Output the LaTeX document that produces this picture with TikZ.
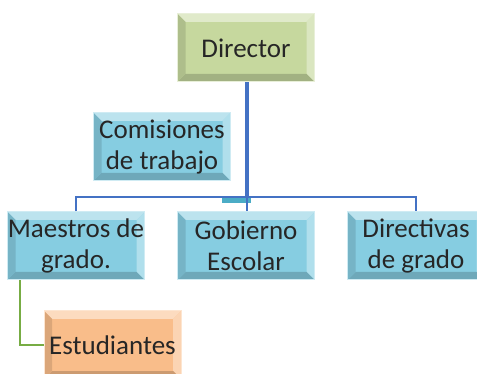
\documentclass[tikz,border=0pt]{standalone}
\usepackage{fontspec}
\setmainfont{Carlito}
\usepackage{xcolor}
\usepackage{tikz}
\usetikzlibrary{positioning}
\definecolor{boxgreen}{RGB}{198,216,158}
\definecolor{boxblue}{RGB}{134,205,225}
\definecolor{boxorange}{RGB}{249,189,138}
\definecolor{linkblue}{RGB}{68,114,196}
\definecolor{linkteal}{RGB}{75,172,198}
\definecolor{linkgreen}{RGB}{119,172,68}
\tikzset{my_chart/.style={x=1pt,y=1pt,font=\fontsize{27}{31}\selectfont,text=black!85,node distance=32pt}}
\tikzset{my_box/.style={rectangle, minimum width=137pt, minimum height=68pt, inner sep=0pt, align=center}}
\tikzset{my_bevel/.style={my_box, fill=#1, draw=#1!40!white, line width=1pt, path picture={
    \fill[#1!55!white] (path picture bounding box.north west) -- (path picture bounding box.north east)
        -- ([shift={(-8pt,-8pt)}]path picture bounding box.north east) -- ([shift={(8pt,-8pt)}]path picture bounding box.north west) -- cycle;
    \fill[#1!65!white] (path picture bounding box.north east) -- (path picture bounding box.south east)
        -- ([shift={(-8pt,8pt)}]path picture bounding box.south east) -- ([shift={(-8pt,-8pt)}]path picture bounding box.north east) -- cycle;
    \fill[#1!82!black] (path picture bounding box.south west) -- (path picture bounding box.south east)
        -- ([shift={(-8pt,8pt)}]path picture bounding box.south east) -- ([shift={(8pt,8pt)}]path picture bounding box.south west) -- cycle;
    \fill[#1!88!black] (path picture bounding box.north west) -- (path picture bounding box.south west)
        -- ([shift={(8pt,8pt)}]path picture bounding box.south west) -- ([shift={(8pt,-8pt)}]path picture bounding box.north west) -- cycle;
}}}
\tikzset{my_link/.style={draw=linkblue, line width=2pt}}

\begin{document}
\begin{tikzpicture}[my_chart]
    \useasboundingbox (0,0) rectangle (477,-374);
    \clip (0,0) rectangle (477,-374);
    %\draw[help lines, step=50] (0,0) grid (477,-374);
    \node[my_bevel=boxgreen] (dir) at (246,-48) {Director};
    \node[my_bevel=boxblue] (com) at (162,-147) {Comisiones\\de trabajo};
    \node[my_bevel=boxblue] (gob) at (246,-246) {Gobierno\\Escolar};
    \node[my_bevel=boxblue, left=of gob] (mae) {Maestros de\\grado.};
    \node[my_bevel=boxblue, right=of gob] (dvs) {Directivas\\de grado};
    \coordinate (bus) at (247,-197);

    \fill[linkteal] (222,-197) rectangle (251,-203);
    \draw[my_link, line width=4pt] (dir.south -| bus) -- (bus);
    \draw[my_link] (mae.north) |- (bus) -| (dvs.north);
    \draw[my_link] (bus) -- (gob.north -| bus);

    \node[my_bevel=boxorange] (est) at (112.5,-345) {Estudiantes};
    \draw[draw=linkgreen, line width=2pt] ([xshift=-56pt]mae.south) |- (est.west);
\end{tikzpicture}
\end{document}
